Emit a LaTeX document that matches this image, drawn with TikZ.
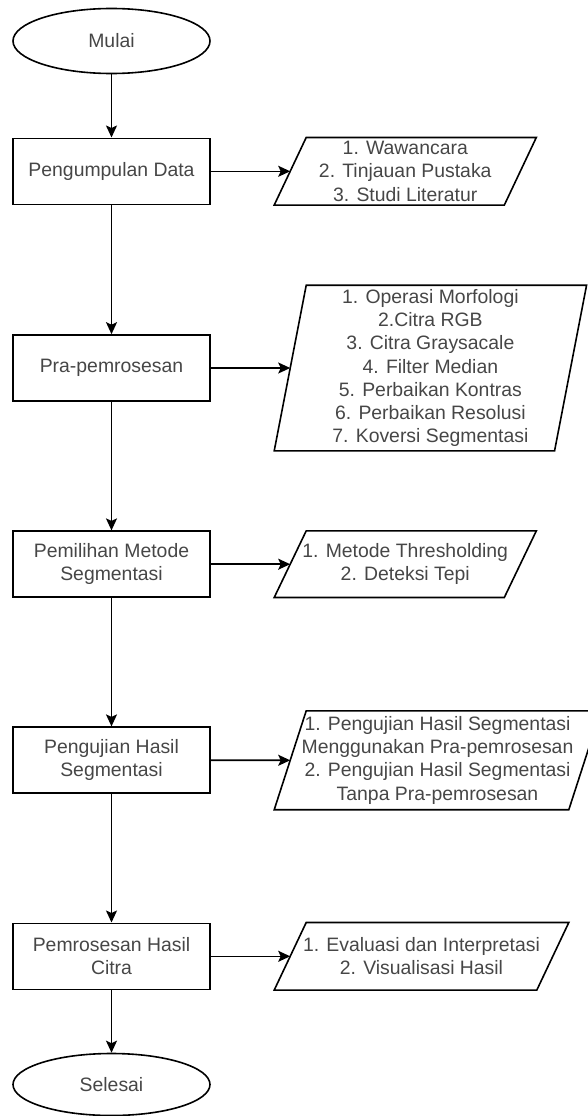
\documentclass[tikz,border=0pt]{standalone}
\usepackage{fontspec}
\setmainfont{Liberation Sans}
\usepackage{xcolor}
\usetikzlibrary{arrows.meta,calc,positioning,shapes.geometric}
\definecolor{txt}{RGB}{70,70,70}
\tikzset{%
	terminal/.style = {draw, ellipse, minimum width=197pt, minimum height=65pt, inner sep=0pt, text centered},
	process/.style  = {draw, rectangle, minimum width=197pt, minimum height=66pt, inner sep=0pt, align=center},
	inout/.style    = {rectangle, minimum height=66pt, inner sep=0pt, align=center},
	arrow/.style    = {line width=1.6pt, -{Stealth[length=12pt,width=11pt,inset=2.5pt]}},
	every node/.style = {line width=1.6pt, text=txt, font=\fontsize{19.4}{23.3}\selectfont},
}

\begin{document}
\begin{tikzpicture}[x=1pt,y=-1pt]
	\useasboundingbox (0,0) rectangle (588,1116);
	\clip (0,0) rectangle (588,1116);
	% left column
	\node[terminal] (mulai) at (111.5,41) {Mulai};
	\node[process] (kumpul) at (111.5,171.3) {Pengumpulan Data};
	\node[process] (pra) at (111.5,368) {Pra-pemrosesan};
	\node[process] (pilih) at (111.5,564.2) {Pemilihan Metode\\Segmentasi};
	\node[process] (uji) at (111.5,760.2) {Pengujian Hasil\\Segmentasi};
	\node[process] (olah) at (111.5,956.3) {Pemrosesan Hasil\\Citra};
	\node[terminal, minimum height=62pt] (selesai) at (111.5,1084.5) {Selesai};
	% right column
	\node[inout, minimum width=228.5pt] (kumpulin) at (405.25,171.3) {1. Wawancara\\2. Tinjauan Pustaka\\3. Studi Literatur};
	\node[inout, minimum width=278.75pt, minimum height=164pt] (prain) at (430.4,368) {1. Operasi Morfologi\\2.Citra RGB\\3. Citra Graysacale\\4. Filter Median\\5. Perbaikan Kontras\\6. Perbaikan Resolusi\\7. Koversi Segmentasi};
	\node[inout, minimum width=228.5pt, minimum height=65pt] (pilihin) at (405.25,564.2) {1. Metode Thresholding\\2. Deteksi Tepi};
	\node[inout, minimum width=293pt, minimum height=97.3pt] (ujiin) at (437.5,760.3) {1. Pengujian Hasil Segmentasi\\Menggunakan Pra-pemrosesan\\2. Pengujian Hasil Segmentasi\\Tanpa Pra-pemrosesan};
	\node[inout, minimum width=261pt] (olahin) at (421.5,956.3) {1. Evaluasi dan Interpretasi\\2. Visualisasi Hasil};
	\foreach \n in {kumpulin,prain,pilihin,ujiin,olahin}
		\draw[line width=1.6pt, line join=miter] ([xshift=-16pt]\n.south west) -- ([xshift=16pt]\n.north west) -- ([xshift=16pt]\n.north east) -- ([xshift=-16pt]\n.south east) -- cycle;
	% connectors
	\draw[arrow] (mulai) -- (kumpul);
	\draw[arrow] (kumpul) -- (pra);
	\draw[arrow] (pra) -- (pilih);
	\draw[arrow] (pilih) -- (uji);
	\draw[arrow] (uji) -- (olah);
	\draw[arrow] (olah) -- (selesai);
	\foreach \a/\b in {kumpul/kumpulin,pra/prain,pilih/pilihin,uji/ujiin,olah/olahin}
		\draw[arrow] (\a.east) -- (\b.west);
\end{tikzpicture}
\end{document}
